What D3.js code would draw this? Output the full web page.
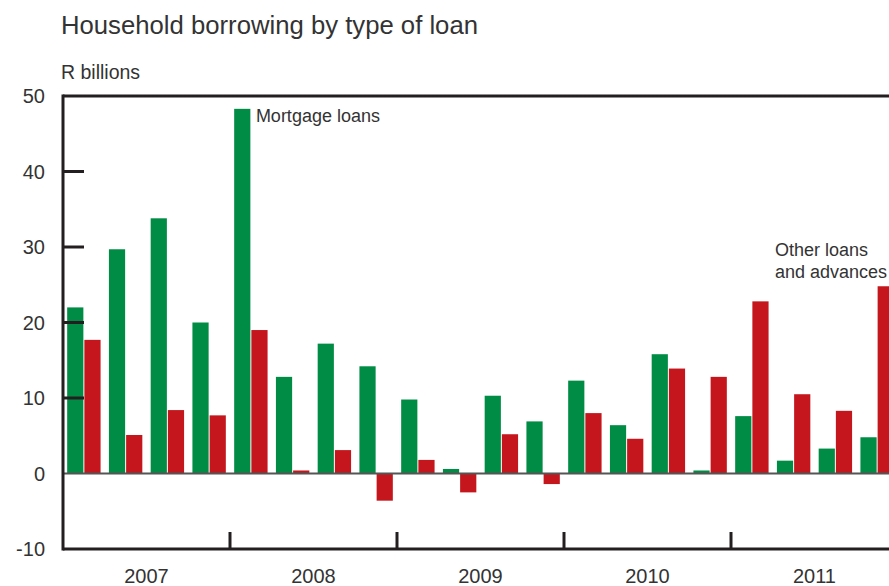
<!DOCTYPE html>
<html>
<head>
<meta charset="utf-8">
<script src="https://cdn.jsdelivr.net/npm/d3@7"></script>
<style>
  body { margin: 0; background: #fff; }
  text { font-family: "Liberation Sans", Arial, sans-serif; fill: #333; }
</style>
</head>
<body>
<div id="chart"></div>
<script>
// quarterly data, 2007Q1 - 2011Q4
var years = ["2007", "2008", "2009", "2010", "2011"];
var quarters = ["Q1", "Q2", "Q3", "Q4"];
var mortgage = [22.0, 29.7, 33.8, 20.0, 48.3, 12.8, 17.2, 14.2, 9.8, 0.6, 10.3, 6.9, 12.3, 6.4, 15.8, 0.4, 7.6, 1.7, 3.3, 4.8];
var other = [17.7, 5.1, 8.4, 7.7, 19.0, 0.4, 3.1, -3.6, 1.8, -2.5, 5.2, -1.4, 8.0, 4.6, 13.9, 12.8, 22.8, 10.5, 8.3, 24.8];
var yTicks = [50, 40, 30, 20, 10, 0, -10];

var width = 889, height = 586;
var plotLeft = 63, plotRight = 898, plotTop = 96, plotBottom = 549;

var periods = [];
years.forEach(function(y) {
  quarters.forEach(function(q) { periods.push(y + q); });
});

var svg = d3.select("#chart").append("svg")
  .attr("width", width)
  .attr("height", height);

var xScale = d3.scaleBand().domain(periods).range([plotLeft, plotRight])
  .paddingInner(0.2).paddingOuter(0.1);
var xYear = d3.scaleBand().domain(years).range([plotLeft, plotRight]);
var yScale = d3.scaleLinear().domain([-10, 50]).range([plotBottom, plotTop]);

var bw = xScale.bandwidth() / 2;

// bars
svg.selectAll("rect.mort").data(mortgage).enter().append("rect")
  .attr("class", "mort")
  .attr("x", function(d, i) { return xScale(periods[i]); })
  .attr("y", function(d) { return yScale(Math.max(0, d)); })
  .attr("width", bw - 0.5)
  .attr("height", function(d) { return Math.abs(yScale(d) - yScale(0)); })
  .attr("fill", "#008c44");

svg.selectAll("rect.other").data(other).enter().append("rect")
  .attr("class", "other")
  .attr("x", function(d, i) { return xScale(periods[i]) + bw + 0.5; })
  .attr("y", function(d) { return yScale(Math.max(0, d)); })
  .attr("width", bw - 0.5)
  .attr("height", function(d) { return Math.abs(yScale(d) - yScale(0)); })
  .attr("fill", "#c4161c");

// zero line
svg.append("line")
  .attr("x1", plotLeft).attr("x2", width)
  .attr("y1", yScale(0)).attr("y2", yScale(0))
  .attr("stroke", "#555").attr("stroke-width", 2);

// frame
svg.append("line")
  .attr("x1", plotLeft).attr("x2", width)
  .attr("y1", plotTop).attr("y2", plotTop)
  .attr("stroke", "#231f20").attr("stroke-width", 3);
svg.append("line")
  .attr("x1", plotLeft).attr("x2", width)
  .attr("y1", plotBottom).attr("y2", plotBottom)
  .attr("stroke", "#231f20").attr("stroke-width", 3);
svg.append("line")
  .attr("x1", plotLeft).attr("x2", plotLeft)
  .attr("y1", plotTop - 1.5).attr("y2", plotBottom + 1.5)
  .attr("stroke", "#231f20").attr("stroke-width", 3);

// y ticks (inward) and labels
svg.selectAll("line.ytick").data(yTicks.filter(function(d) { return d > 0 && d < 50; }))
  .enter().append("line")
  .attr("class", "ytick")
  .attr("x1", plotLeft).attr("x2", plotLeft + 21)
  .attr("y1", function(d) { return yScale(d); })
  .attr("y2", function(d) { return yScale(d); })
  .attr("stroke", "#231f20").attr("stroke-width", 3);

svg.selectAll("text.ylab").data(yTicks).enter().append("text")
  .attr("class", "ylab")
  .attr("x", 45)
  .attr("y", function(d) { return yScale(d) + 7; })
  .attr("text-anchor", "end")
  .attr("font-size", 20)
  .text(function(d) { return d; });

// year separators and labels
svg.selectAll("line.ysep").data(years.slice(1)).enter().append("line")
  .attr("class", "ysep")
  .attr("x1", function(d) { return xYear(d); })
  .attr("x2", function(d) { return xYear(d); })
  .attr("y1", plotBottom).attr("y2", plotBottom - 17)
  .attr("stroke", "#231f20").attr("stroke-width", 3);

svg.selectAll("text.year").data(years).enter().append("text")
  .attr("class", "year")
  .attr("x", function(d) { return xYear(d) + xYear.bandwidth() / 2; })
  .attr("y", 583)
  .attr("text-anchor", "middle")
  .attr("font-size", 20)
  .text(function(d) { return d; });

// titles
svg.append("text").attr("x", 61).attr("y", 34)
  .attr("font-size", 25.7).text("Household borrowing by type of loan");
svg.append("text").attr("x", 61).attr("y", 79)
  .attr("font-size", 19.5).text("R billions");

// series labels
svg.append("text").attr("x", xScale("2008Q1") + bw + 5).attr("y", 122)
  .attr("font-size", 18).text("Mortgage loans");
svg.append("text").attr("x", 775).attr("y", 256)
  .attr("font-size", 18).text("Other loans");
svg.append("text").attr("x", 775).attr("y", 278)
  .attr("font-size", 18).text("and advances");
</script>
</body>
</html>
